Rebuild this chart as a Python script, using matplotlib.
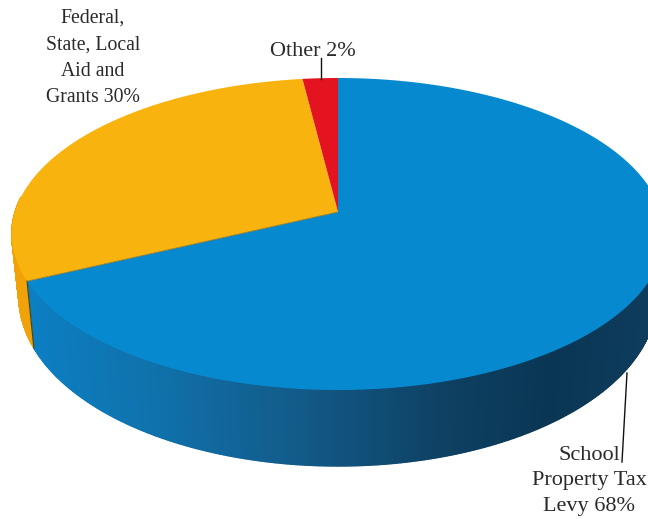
import numpy as np
import matplotlib
matplotlib.use('Agg')
import matplotlib.pyplot as plt
from matplotlib.collections import PolyCollection

labels = ['School\nProperty Tax\nLevy 68%', 'Federal,\nState, Local\nAid and\nGrants 30%', 'Other 2%']
shares = [68, 30, 2]
top_colors = ['#0789d0', '#f9b30e', '#e3131f']

plt.rcParams['font.family'] = ['Liberation Serif', 'DejaVu Serif']

# perspective of the pie disc, in image pixels
cx, cy = 338, 212
a, b, k = 323, 152.9, 0.141


def project(theta):
    # theta is clockwise from 12 o'clock
    u, v = np.sin(theta), np.cos(theta)
    return cx + a * u / (1 + k * v), cy - b * v / (1 + k * v)


def lower(theta):
    # rim of the underside of the disc
    x, y = project(theta)
    v = np.cos(theta)
    return cx + (x - cx) * 0.978, y + 60 - 16 * v


fig = plt.figure(figsize=(6.48, 5.19), dpi=100)
ax = fig.add_axes([0, 0, 1, 1])
ax.set_xlim(0, 648)
ax.set_ylim(519, 0)
ax.axis('off')

edges = np.radians(np.concatenate([[0], np.cumsum(shares)]) * 3.6)

# side wall, front half only
side_x = [0, 30, 150, 300, 450, 550, 648]
side_r = [12, 12, 16, 18, 14, 10, 14]
side_g = [125, 126, 114, 90, 64, 54, 60]
side_b = [192, 194, 172, 136, 98, 84, 92]

th = np.linspace(np.pi / 2 - 0.1, 3 * np.pi / 2 + 0.1, 500)
polys, cols = [], []
for t0, t1 in zip(th[:-1], th[1:]):
    x0, y0 = project(t0)
    x1, y1 = project(t1)
    x2, y2 = lower(t1)
    x3, y3 = lower(t0)
    polys.append([(x0, y0), (x1, y1), (x2, y2), (x3, y3)])
    if t0 < edges[1]:
        xm = (x0 + x1) / 2
        cols.append((np.interp(xm, side_x, side_r) / 255,
                     np.interp(xm, side_x, side_g) / 255,
                     np.interp(xm, side_x, side_b) / 255))
    else:
        cols.append('#f0a208')
ax.add_collection(PolyCollection(polys, facecolors=cols, edgecolors=cols, linewidths=1.0, zorder=1))

# top of the pie
for t0, t1, c in zip(edges[:-1], edges[1:], top_colors):
    t = np.linspace(t0, t1, 200)
    x, y = project(t)
    ax.fill(np.r_[cx, x], np.r_[cy, y], color=c, lw=0, zorder=2)

# dark seam where the blue wall ends on the left
xs, ys = project(edges[1])
xl, yl = lower(edges[1])
ax.plot([xs, xl], [ys, yl], color='#3a4a30', lw=0.9, zorder=3)
ax.plot([cx, xs], [cy, ys], color='#8a7a30', lw=0.6, zorder=3)

# leader lines
ax.plot([321, 321], [58, 79], color='#111111', lw=1.0, zorder=4)
ax.plot([627, 622], [373, 462], color='#111111', lw=1.0, zorder=4)

ax.text(589, 481, labels[0], ha='center', va='center', ma='center', fontsize=16,
        color='#2a2a2a', linespacing=1.44)
ax.text(93, 58, labels[1], ha='center', va='center', ma='center', fontsize=14.2,
        color='#2a2a2a', linespacing=1.53)
ax.text(313, 51, labels[2], ha='center', va='center', fontsize=16, color='#2a2a2a')

fig.savefig('out.png', dpi=100)
